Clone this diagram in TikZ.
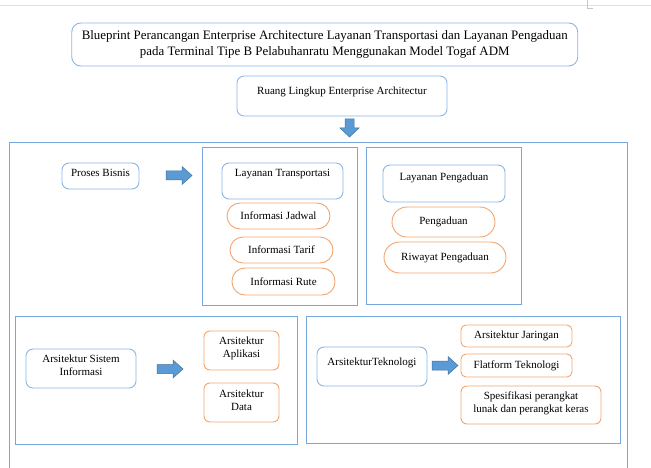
\documentclass[tikz,border=0pt]{standalone}
\usepackage{fontspec}
\setmainfont{Liberation Serif}
\begin{document}
\begin{tikzpicture}[x=1pt,y=-1pt,
  font=\fontsize{11}{13}\selectfont,
  bluebox/.style={draw=roundline,line width=0.9pt,rounded corners=7pt,align=center,inner sep=0pt},
  frame/.style={draw=blueline,line width=0.9pt},
  orangebox/.style={draw=orangeline,line width=0.9pt,rounded corners=6pt,align=center,inner sep=0pt},
  pill/.style={draw=orangeline,line width=0.9pt,rounded corners=13pt,align=center,inner sep=0pt},
  blockarrow/.style={fill=arrowfill,draw=arrowline,line width=0.5pt},
  rarrow/.pic={\path[blockarrow] (0,-4.5) -- (16,-4.5) -- (16,-9) -- (26,0) -- (16,9) -- (16,4.5) -- (0,4.5) -- cycle;},
  darrow/.pic={\path[blockarrow] (-4.5,0) -- (-4.5,9) -- (-9.5,9) -- (0,18) -- (9.5,9) -- (4.5,9) -- (4.5,0) -- cycle;}
]
\definecolor{blueline}{HTML}{76A7DD}
\definecolor{roundline}{HTML}{8AB6E4}
\definecolor{orangeline}{HTML}{F2A46E}
\definecolor{arrowfill}{HTML}{5B9BD5}
\definecolor{arrowline}{HTML}{41719C}
\definecolor{topline}{HTML}{E2E2E2}

\useasboundingbox (0,0) rectangle (651,468);

% thin rule and corner mark along the top edge
\draw[topline,line width=1pt] (0,5.5) -- (651,5.5);
\draw[gray!45,line width=0.8pt] (587,0) -- (587,8) -- (593,8);

% title and scope
\node[bluebox,minimum width=506pt,minimum height=43pt,rounded corners=9pt,
  font=\fontsize{12.9}{16}\selectfont] (title) at (324.75,44.5)
  {Blueprint Perancangan Enterprise Architecture Layanan Transportasi dan Layanan Pengaduan\\
   pada Terminal Tipe B Pelabuhanratu Menggunakan Model Togaf ADM};
\node[bluebox,minimum width=210pt,minimum height=40pt,text depth=10pt] (scope) at (342,96)
  {Ruang Lingkup Enterprise Architectur};
\pic at (349.5,119) {darrow};

% outer frame, open at the bottom
\draw[frame] (9.5,470) -- (9.5,142) -- (627,142) -- (627,470);

% business process
\node[bluebox,minimum width=77pt,minimum height=26pt,text depth=6pt] (bisnis) at (100.5,176) {Proses Bisnis};
\pic at (166,175.5) {rarrow};

\node[frame,minimum width=155pt,minimum height=158pt] (transFrame) at (279.5,226) {};
\node[bluebox,minimum width=121pt,minimum height=36pt,text depth=16pt] (trans) at (282.5,181) {Layanan Transportasi};
\node[pill,minimum width=103pt,minimum height=26pt] (jadwal) at (278.5,216) {Informasi Jadwal};
\node[pill,minimum width=103pt,minimum height=26pt] (tarif) at (281.5,250) {Informasi Tarif};
\node[pill,minimum width=103pt,minimum height=27pt] (rute) at (283.5,281.5) {Informasi Rute};

\node[frame,minimum width=155pt,minimum height=157pt] (aduFrame) at (443.5,225.5) {};
\node[bluebox,minimum width=122pt,minimum height=37pt,text depth=13pt] (adu) at (444,183.5) {Layanan Pengaduan};
\node[pill,minimum width=103pt,minimum height=30pt,rounded corners=15pt] (pengaduan) at (443.5,222) {Pengaduan};
\node[pill,minimum width=122pt,minimum height=31pt,rounded corners=15.5pt] (riwayat) at (445,257.5) {Riwayat Pengaduan};

% information systems architecture
\node[frame,minimum width=282pt,minimum height=128pt] (sisFrame) at (156,380) {};
\node[bluebox,minimum width=110pt,minimum height=39pt,text depth=7pt] (sistem) at (81,368.5) {Arsitektur Sistem\\Informasi};
\pic at (157,369) {rarrow};
\node[orangebox,minimum width=75pt,minimum height=39pt,text depth=7pt] (aplikasi) at (241.5,350.5) {Arsitektur\\Aplikasi};
\node[orangebox,minimum width=75pt,minimum height=39pt,text depth=5.5pt] (data) at (241.5,402.5) {Arsitektur\\Data};

% technology architecture
\node[frame,minimum width=314pt,minimum height=127pt] (tekFrame) at (463,379.5) {};
\node[bluebox,minimum width=110pt,minimum height=39pt,text depth=9pt] (teknologi) at (372,366.5) {ArsitekturTeknologi};
\pic at (432,365.5) {rarrow};
\node[orangebox,minimum width=111pt,minimum height=22pt,rounded corners=5pt] (jaringan) at (516.5,336) {Arsitektur Jaringan};
\node[orangebox,minimum width=111pt,minimum height=23pt,rounded corners=5pt] (platform) at (516.5,365.5) {Flatform Teknologi};
\node[orangebox,minimum width=140pt,minimum height=38pt,text depth=5pt] (spek) at (531,405) {Spesifikasi perangkat\\lunak dan perangkat keras};
\end{tikzpicture}
\end{document}
